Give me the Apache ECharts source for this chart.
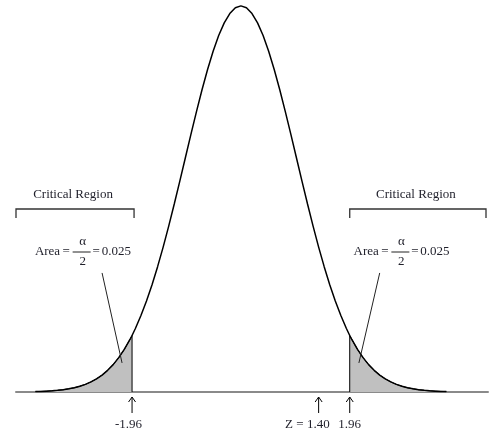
<!DOCTYPE html>
<html>
<head>
<meta charset="utf-8">
<script src="https://cdn.jsdelivr.net/npm/echarts@6/dist/echarts.min.js"></script>
<style>
  html, body { margin: 0; padding: 0; background: #fff; }
  #chart { width: 492px; height: 433px; }
</style>
</head>
<body>
<div id="chart"></div>
<script>
// Standard normal density, right half (z >= 0); the left half is its mirror.
const halfZ = [0.0, 0.1, 0.2, 0.3, 0.4, 0.5, 0.6, 0.7, 0.8, 0.9,
               1.0, 1.1, 1.2, 1.3, 1.4, 1.5, 1.6, 1.7, 1.8, 1.9,
               2.0, 2.1, 2.2, 2.3, 2.4, 2.5, 2.6, 2.7, 2.8, 2.9,
               3.0, 3.1, 3.2, 3.3, 3.4, 3.5, 3.6, 3.7];
const halfDensity = [0.3989, 0.3970, 0.3910, 0.3814, 0.3683, 0.3521, 0.3332, 0.3123, 0.2897, 0.2661,
                     0.2420, 0.2179, 0.1942, 0.1714, 0.1497, 0.1295, 0.1109, 0.0940, 0.0790, 0.0656,
                     0.0540, 0.0440, 0.0355, 0.0283, 0.0224, 0.0175, 0.0136, 0.0104, 0.0079, 0.0060,
                     0.0044, 0.0033, 0.0024, 0.0017, 0.0012, 0.0009, 0.0006, 0.0004];

// Critical value and its density, and the observed test statistic.
const criticalZ = 1.96;
const criticalDensity = 0.0584;
const testZ = 1.40;

// Text
const tickLabels = ['-1.96', 'Z = 1.40', '1.96'];
const regionTitle = 'Critical Region';
const areaWord = 'Area';
const equalsSign = '=';
const alphaSymbol = 'α';
const alphaDivisor = '2';
const areaValue = '0.025';

// ---- build the curve and the two tail regions ----
const rightHalf = halfZ.map((z, i) => [z, halfDensity[i]]);
const leftHalf = rightHalf.slice(1).map(p => [-p[0], p[1]]).reverse();
const curve = leftHalf.concat(rightHalf);
curve.push([criticalZ, criticalDensity], [-criticalZ, criticalDensity]);
curve.sort((a, b) => a[0] - b[0]);

const upperTail = [[criticalZ, 0], [criticalZ, criticalDensity]]
  .concat(rightHalf.filter(p => p[0] > criticalZ));
const lowerTail = upperTail.map(p => [-p[0], p[1]]).reverse();

const serif = "'Liberation Serif', 'Times New Roman', serif";
const ink = '#1f1f2a';

const chart = echarts.init(document.getElementById('chart'), null, { renderer: 'canvas' });

const tailSeries = data => ({
  type: 'line',
  data: data,
  showSymbol: false,
  silent: true,
  animation: false,
  lineStyle: { color: '#000', width: 1 },
  areaStyle: { color: '#c0c0c0', opacity: 1, origin: 'start' },
  z: 2
});

chart.setOption({
  animation: false,
  grid: { left: 16, right: 4, top: 0, bottom: 41 },
  xAxis: {
    type: 'value',
    min: -4.05,
    max: 4.45,
    axisLine: { show: true, onZero: false, lineStyle: { color: '#8a8a8a', width: 2 } },
    axisTick: { show: false },
    axisLabel: { show: false },
    splitLine: { show: false }
  },
  yAxis: {
    type: 'value',
    min: 0,
    max: 0.405,
    show: false
  },
  series: [
    tailSeries(lowerTail),
    tailSeries(upperTail),
    {
      type: 'line',
      data: curve,
      showSymbol: false,
      silent: true,
      lineStyle: { color: '#000', width: 1.5 },
      z: 3
    }
  ]
});

// ---- annotations positioned through the axes ----
const toPx = (x, y) => chart.convertToPixel({ xAxisIndex: 0, yAxisIndex: 0 }, [x, y]);
const [axisLeft, baseY] = toPx(-4.05, 0);
const [axisRight] = toPx(4.45, 0);

const elements = [];
const lineEl = (x1, y1, x2, y2, color, width) => ({
  type: 'line',
  shape: { x1, y1, x2, y2 },
  style: { stroke: color, lineWidth: width },
  silent: true,
  z: 10
});
const textEl = (x, y, text, align, size) => ({
  type: 'text',
  x, y,
  style: { text, fill: ink, font: size + 'px ' + serif, align, verticalAlign: 'middle' },
  silent: true,
  z: 10
});

// Arrows and labels below the axis
const arrowMarks = [
  { z: -criticalZ, label: tickLabels[0], align: 'right', dx: 10 },
  { z: testZ, label: tickLabels[1], align: 'right', dx: 11 },
  { z: criticalZ, label: tickLabels[2], align: 'center', dx: 0 }
];
arrowMarks.forEach(m => {
  const [x] = toPx(m.z, 0);
  const top = baseY + 5, bottom = baseY + 21;
  elements.push(lineEl(x, top, x, bottom, '#000', 1));
  elements.push({
    type: 'polyline',
    shape: { points: [[x - 3.5, top + 5], [x, top], [x + 3.5, top + 5]] },
    style: { stroke: '#000', lineWidth: 1, fill: null },
    silent: true,
    z: 10
  });
  elements.push(textEl(x + m.dx, baseY + 33, m.label, m.align, 13));
});

// Brackets over each critical region with their titles
const [lowCritX] = toPx(-criticalZ, 0);
const [highCritX] = toPx(criticalZ, 0);
const brackets = [
  [axisLeft, lowCritX + 2],
  [highCritX, axisRight - 2]
];
brackets.forEach(([a, b]) => {
  const y = 209;
  elements.push({
    type: 'polyline',
    shape: { points: [[a, y + 9], [a, y], [b, y], [b, y + 9]] },
    style: { stroke: '#333', lineWidth: 1.3, fill: null },
    silent: true,
    z: 10
  });
  elements.push(textEl((a + b) / 2 - 2, 195, regionTitle, 'center', 13));
});

// "Area = α/2 = 0.025" labels with leader lines into each shaded tail
const areaLabels = [
  { anchor: -2.85, from: [-2.50, 0.123], to: [-2.14, 0.030] },
  { anchor: 2.89, from: [2.50, 0.123], to: [2.125, 0.030] }
];
areaLabels.forEach(l => {
  const [cx] = toPx(l.anchor, 0);
  const cy = 252;
  elements.push(textEl(cx - 22.5, cy, areaWord, 'right', 13));
  elements.push(textEl(cx - 16.5, cy, equalsSign, 'center', 13));
  elements.push(textEl(cx, cy - 10, alphaSymbol, 'center', 13));
  elements.push(lineEl(cx - 10, cy, cx + 8, cy, '#222', 1));
  elements.push(textEl(cx, cy + 10, alphaDivisor, 'center', 13));
  elements.push(textEl(cx + 13.5, cy, equalsSign, 'center', 13));
  elements.push(textEl(cx + 19, cy, areaValue, 'left', 13));
  const p1 = toPx(l.from[0], l.from[1]);
  const p2 = toPx(l.to[0], l.to[1]);
  elements.push(lineEl(p1[0], p1[1], p2[0], p2[1], '#222', 1));
});

chart.setOption({ graphic: { elements } });
</script>
</body>
</html>
